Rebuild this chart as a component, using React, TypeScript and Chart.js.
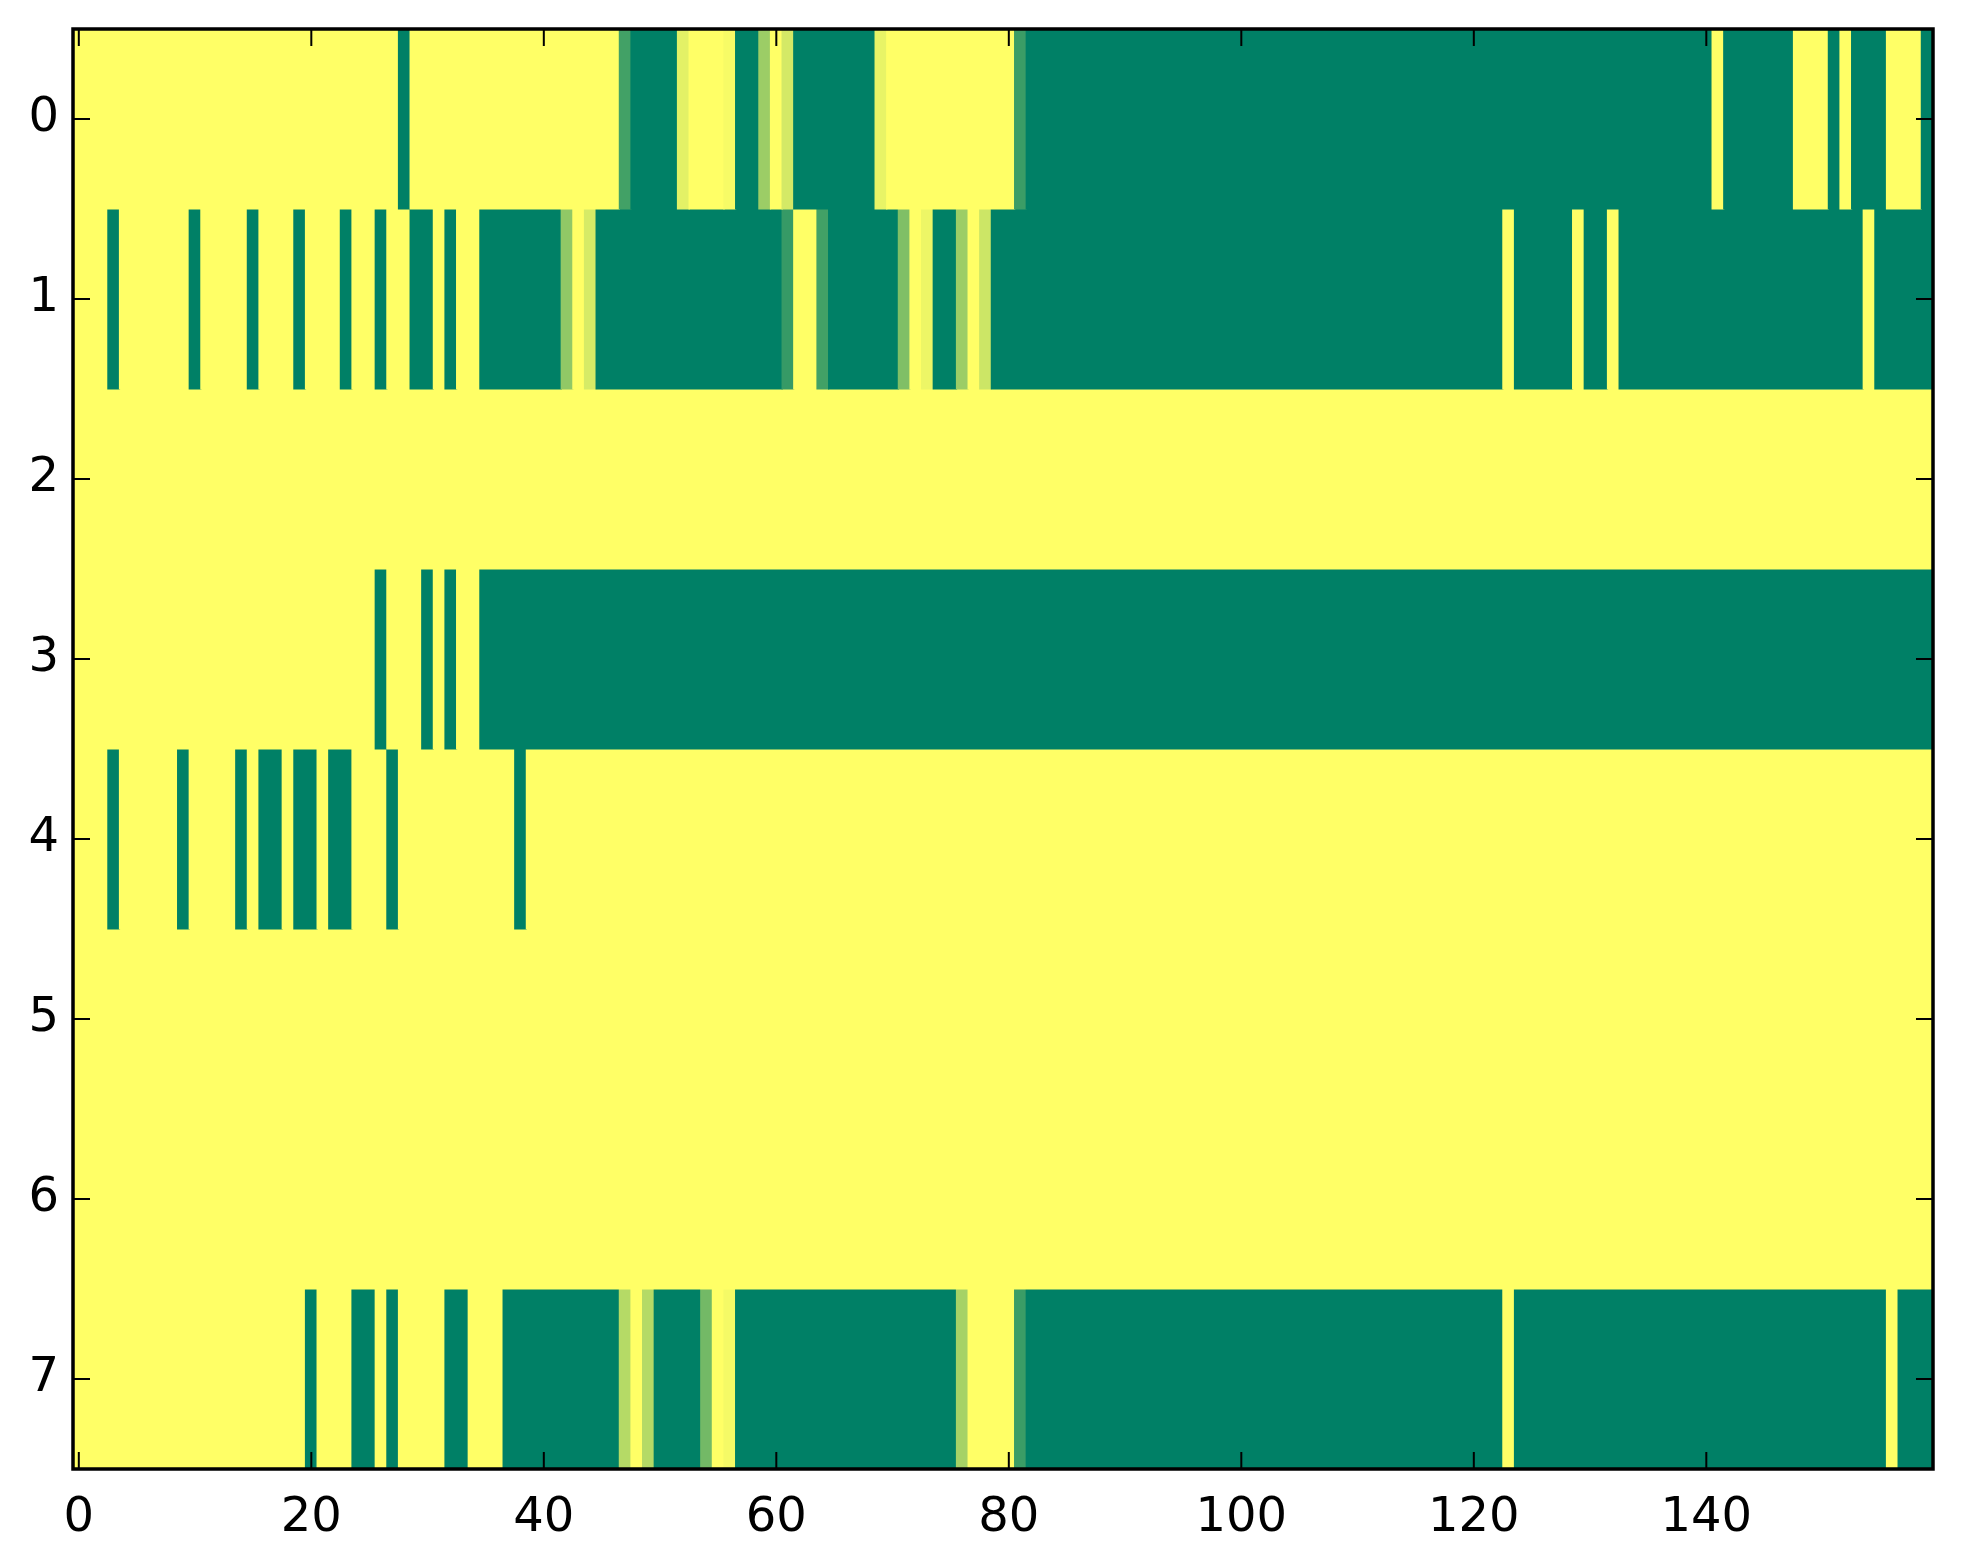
import React, { useEffect, useRef } from "react";
import { Chart, registerables } from "chart.js";

Chart.register(...registerables);

// Tick values / labels
const xTickValues = [0, 20, 40, 60, 80, 100, 120, 140];
const yTickValues = [0, 1, 2, 3, 4, 5, 6, 7];
const nCols = 160;

// Cell values per row (0 = green, 1 = yellow), columns 0..159
const row0 = [
  1, 1, 1, 1, 1, 1, 1, 1, 1, 1, 1, 1, 1, 1, 1, 1, 1, 1, 1, 1,
  1, 1, 1, 1, 1, 1, 1, 1, 0, 1, 1, 1, 1, 1, 1, 1, 1, 1, 1, 1,
  1, 1, 1, 1, 1, 1, 1, 0.26, 0, 0, 0, 0, 0.89, 1, 1, 1, 0.97, 0, 0, 0.61,
  1, 0.83, 0, 0, 0, 0, 0, 0, 0, 0.91, 1, 1, 1, 1, 1, 1, 1, 1, 1, 1,
  1, 0.23, 0, 0, 0, 0, 0, 0, 0, 0, 0, 0, 0, 0, 0, 0, 0, 0, 0, 0,
  0, 0, 0, 0, 0, 0, 0, 0, 0, 0, 0, 0, 0, 0, 0, 0, 0, 0, 0, 0,
  0, 0, 0, 0, 0, 0, 0, 0, 0, 0, 0, 0, 0, 0, 0, 0, 0, 0, 0, 0,
  0, 1, 0, 0, 0, 0, 0, 0, 1, 1, 1, 0, 1, 0, 0, 0, 1, 1, 1, 0,
];

const row1 = [
  1, 1, 1, 0, 1, 1, 1, 1, 1, 1, 0, 1, 1, 1, 1, 0, 1, 1, 1, 0,
  1, 1, 1, 0, 1, 1, 0, 1, 1, 0, 0, 1, 0, 1, 1, 0, 0, 0, 0, 0,
  0, 0, 0.57, 1, 0.84, 0, 0, 0, 0, 0, 0, 0, 0, 0, 0, 0, 0, 0, 0, 0,
  0, 0.21, 1, 1, 0.26, 0, 0, 0, 0, 0, 0, 0.5, 1, 0.93, 0, 0, 0.61, 1, 0.8, 0,
  0, 0, 0, 0, 0, 0, 0, 0, 0, 0, 0, 0, 0, 0, 0, 0, 0, 0, 0, 0,
  0, 0, 0, 0, 0, 0, 0, 0, 0, 0, 0, 0, 0, 0, 0, 0, 0, 0, 0, 0,
  0, 0, 0, 1, 0, 0, 0, 0, 0, 1, 0, 0, 1, 0, 0, 0, 0, 0, 0, 0,
  0, 0, 0, 0, 0, 0, 0, 0, 0, 0, 0, 0, 0, 0, 1, 0, 0, 0, 0, 0,
];

const row2 = [
  1, 1, 1, 1, 1, 1, 1, 1, 1, 1, 1, 1, 1, 1, 1, 1, 1, 1, 1, 1,
  1, 1, 1, 1, 1, 1, 1, 1, 1, 1, 1, 1, 1, 1, 1, 1, 1, 1, 1, 1,
  1, 1, 1, 1, 1, 1, 1, 1, 1, 1, 1, 1, 1, 1, 1, 1, 1, 1, 1, 1,
  1, 1, 1, 1, 1, 1, 1, 1, 1, 1, 1, 1, 1, 1, 1, 1, 1, 1, 1, 1,
  1, 1, 1, 1, 1, 1, 1, 1, 1, 1, 1, 1, 1, 1, 1, 1, 1, 1, 1, 1,
  1, 1, 1, 1, 1, 1, 1, 1, 1, 1, 1, 1, 1, 1, 1, 1, 1, 1, 1, 1,
  1, 1, 1, 1, 1, 1, 1, 1, 1, 1, 1, 1, 1, 1, 1, 1, 1, 1, 1, 1,
  1, 1, 1, 1, 1, 1, 1, 1, 1, 1, 1, 1, 1, 1, 1, 1, 1, 1, 1, 1,
];

const row3 = [
  1, 1, 1, 1, 1, 1, 1, 1, 1, 1, 1, 1, 1, 1, 1, 1, 1, 1, 1, 1,
  1, 1, 1, 1, 1, 1, 0, 1, 1, 1, 0, 1, 0, 1, 1, 0, 0, 0, 0, 0,
  0, 0, 0, 0, 0, 0, 0, 0, 0, 0, 0, 0, 0, 0, 0, 0, 0, 0, 0, 0,
  0, 0, 0, 0, 0, 0, 0, 0, 0, 0, 0, 0, 0, 0, 0, 0, 0, 0, 0, 0,
  0, 0, 0, 0, 0, 0, 0, 0, 0, 0, 0, 0, 0, 0, 0, 0, 0, 0, 0, 0,
  0, 0, 0, 0, 0, 0, 0, 0, 0, 0, 0, 0, 0, 0, 0, 0, 0, 0, 0, 0,
  0, 0, 0, 0, 0, 0, 0, 0, 0, 0, 0, 0, 0, 0, 0, 0, 0, 0, 0, 0,
  0, 0, 0, 0, 0, 0, 0, 0, 0, 0, 0, 0, 0, 0, 0, 0, 0, 0, 0, 0,
];

const row4 = [
  1, 1, 1, 0, 1, 1, 1, 1, 1, 0, 1, 1, 1, 1, 0, 1, 0, 0, 1, 0,
  0, 1, 0, 0, 1, 1, 1, 0, 1, 1, 1, 1, 1, 1, 1, 1, 1, 1, 0, 1,
  1, 1, 1, 1, 1, 1, 1, 1, 1, 1, 1, 1, 1, 1, 1, 1, 1, 1, 1, 1,
  1, 1, 1, 1, 1, 1, 1, 1, 1, 1, 1, 1, 1, 1, 1, 1, 1, 1, 1, 1,
  1, 1, 1, 1, 1, 1, 1, 1, 1, 1, 1, 1, 1, 1, 1, 1, 1, 1, 1, 1,
  1, 1, 1, 1, 1, 1, 1, 1, 1, 1, 1, 1, 1, 1, 1, 1, 1, 1, 1, 1,
  1, 1, 1, 1, 1, 1, 1, 1, 1, 1, 1, 1, 1, 1, 1, 1, 1, 1, 1, 1,
  1, 1, 1, 1, 1, 1, 1, 1, 1, 1, 1, 1, 1, 1, 1, 1, 1, 1, 1, 1,
];

const row5 = [
  1, 1, 1, 1, 1, 1, 1, 1, 1, 1, 1, 1, 1, 1, 1, 1, 1, 1, 1, 1,
  1, 1, 1, 1, 1, 1, 1, 1, 1, 1, 1, 1, 1, 1, 1, 1, 1, 1, 1, 1,
  1, 1, 1, 1, 1, 1, 1, 1, 1, 1, 1, 1, 1, 1, 1, 1, 1, 1, 1, 1,
  1, 1, 1, 1, 1, 1, 1, 1, 1, 1, 1, 1, 1, 1, 1, 1, 1, 1, 1, 1,
  1, 1, 1, 1, 1, 1, 1, 1, 1, 1, 1, 1, 1, 1, 1, 1, 1, 1, 1, 1,
  1, 1, 1, 1, 1, 1, 1, 1, 1, 1, 1, 1, 1, 1, 1, 1, 1, 1, 1, 1,
  1, 1, 1, 1, 1, 1, 1, 1, 1, 1, 1, 1, 1, 1, 1, 1, 1, 1, 1, 1,
  1, 1, 1, 1, 1, 1, 1, 1, 1, 1, 1, 1, 1, 1, 1, 1, 1, 1, 1, 1,
];

const row6 = [
  1, 1, 1, 1, 1, 1, 1, 1, 1, 1, 1, 1, 1, 1, 1, 1, 1, 1, 1, 1,
  1, 1, 1, 1, 1, 1, 1, 1, 1, 1, 1, 1, 1, 1, 1, 1, 1, 1, 1, 1,
  1, 1, 1, 1, 1, 1, 1, 1, 1, 1, 1, 1, 1, 1, 1, 1, 1, 1, 1, 1,
  1, 1, 1, 1, 1, 1, 1, 1, 1, 1, 1, 1, 1, 1, 1, 1, 1, 1, 1, 1,
  1, 1, 1, 1, 1, 1, 1, 1, 1, 1, 1, 1, 1, 1, 1, 1, 1, 1, 1, 1,
  1, 1, 1, 1, 1, 1, 1, 1, 1, 1, 1, 1, 1, 1, 1, 1, 1, 1, 1, 1,
  1, 1, 1, 1, 1, 1, 1, 1, 1, 1, 1, 1, 1, 1, 1, 1, 1, 1, 1, 1,
  1, 1, 1, 1, 1, 1, 1, 1, 1, 1, 1, 1, 1, 1, 1, 1, 1, 1, 1, 1,
];

const row7 = [
  1, 1, 1, 1, 1, 1, 1, 1, 1, 1, 1, 1, 1, 1, 1, 1, 1, 1, 1, 1,
  0, 1, 1, 1, 0, 0, 1, 0, 1, 1, 1, 1, 0, 0, 1, 1, 1, 0, 0, 0,
  0, 0, 0, 0, 0, 0, 0, 0.71, 1, 0.71, 0, 0, 0, 0, 0.45, 1, 0.96, 0, 0, 0,
  0, 0, 0, 0, 0, 0, 0, 0, 0, 0, 0, 0, 0, 0, 0, 0, 0.65, 1, 1, 1,
  1, 0.23, 0, 0, 0, 0, 0, 0, 0, 0, 0, 0, 0, 0, 0, 0, 0, 0, 0, 0,
  0, 0, 0, 0, 0, 0, 0, 0, 0, 0, 0, 0, 0, 0, 0, 0, 0, 0, 0, 0,
  0, 0, 0, 1, 0, 0, 0, 0, 0, 0, 0, 0, 0, 0, 0, 0, 0, 0, 0, 0,
  0, 0, 0, 0, 0, 0, 0, 0, 0, 0, 0, 0, 0, 0, 0, 0, 1, 0, 0, 0,
];

const rows = [row0, row1, row2, row3, row4, row5, row6, row7];

// matplotlib "summer" colormap
function summer(v: number): string {
  const r = Math.round(255 * v);
  const g = Math.round(255 * (0.5 + 0.5 * v));
  return `rgb(${r},${g},102)`;
}

// merge equal neighbouring cells into one floating bar (avoids seams)
function buildRuns(row: number[], r: number) {
  const out: { x: [number, number]; y: number; v: number }[] = [];
  let start = 0;
  for (let i = 1; i <= row.length; i++) {
    if (i === row.length || row[i] !== row[start]) {
      out.push({ x: [start - 0.5, i - 0.5], y: r, v: row[start] });
      start = i;
    }
  }
  return out;
}

const FONT = { family: "'DejaVu Sans', 'Bitstream Vera Sans', sans-serif", size: 48 };

const framePlugin = {
  id: "mplFrame",
  afterDraw(chart: any) {
    const { ctx, chartArea: a, scales } = chart;
    const tl = 17;
    ctx.save();
    ctx.strokeStyle = "#000";
    ctx.lineWidth = 2;
    ctx.beginPath();
    scales.x.ticks.forEach((t: any) => {
      const px = scales.x.getPixelForValue(t.value);
      ctx.moveTo(px, a.bottom);
      ctx.lineTo(px, a.bottom - tl);
      ctx.moveTo(px, a.top);
      ctx.lineTo(px, a.top + tl);
    });
    scales.y.ticks.forEach((t: any) => {
      const py = scales.y.getPixelForValue(t.value);
      ctx.moveTo(a.left, py);
      ctx.lineTo(a.left + tl, py);
      ctx.moveTo(a.right, py);
      ctx.lineTo(a.right - tl, py);
    });
    ctx.stroke();
    ctx.lineWidth = 3.5;
    ctx.strokeRect(a.left, a.top, a.right - a.left, a.bottom - a.top);
    ctx.restore();
  },
};

export default function App() {
  const canvasRef = useRef<HTMLCanvasElement | null>(null);

  useEffect(() => {
    if (!canvasRef.current) return;
    const datasets = rows.map((row, r) => {
      const runs = buildRuns(row, r);
      return {
        label: `row ${r}`,
        data: runs,
        backgroundColor: runs.map((d) => summer(d.v)),
        borderWidth: 0,
        barPercentage: 1,
        categoryPercentage: 1,
        grouped: false,
        inflateAmount: 0.6,
      };
    });

    const chart = new Chart(canvasRef.current, {
      type: "bar",
      data: { datasets: datasets as any },
      plugins: [framePlugin],
      options: {
        indexAxis: "y",
        animation: false,
        responsive: false,
        devicePixelRatio: 1,
        layout: { padding: { left: 0, top: 29, right: 30, bottom: 0 } },
        plugins: { legend: { display: false }, tooltip: { enabled: false } },
        scales: {
          x: {
            type: "linear",
            position: "bottom",
            min: -0.5,
            max: nCols - 0.5,
            offset: false,
            grid: { display: false, drawTicks: false },
            border: { display: false },
            afterBuildTicks: (s: any) => {
              s.ticks = xTickValues.map((v) => ({ value: v }));
            },
            afterFit: (s: any) => {
              s.height = 95;
              s.paddingLeft = 0;
              s.paddingRight = 0;
            },
            ticks: {
              autoSkip: false,
              maxRotation: 0,
              color: "#000",
              font: FONT,
              padding: 21,
              callback: (v: any) => String(v),
            },
          },
          y: {
            type: "linear",
            min: -0.5,
            max: rows.length - 0.5,
            reverse: true,
            offset: false,
            grid: { display: false, drawTicks: false, offset: false },
            border: { display: false },
            afterBuildTicks: (s: any) => {
              s.ticks = yTickValues.map((v) => ({ value: v }));
            },
            afterFit: (s: any) => {
              s.width = 73;
              s.paddingTop = 0;
              s.paddingBottom = 0;
            },
            ticks: {
              autoSkip: false,
              color: "#000",
              font: FONT,
              padding: 14,
              callback: (v: any) => String(v),
            },
          },
        },
      } as any,
    });
    return () => chart.destroy();
  }, []);

  return (
    <div
      style={{
        position: "absolute",
        left: 0,
        top: 0,
        width: 1963,
        height: 1564,
        background: "#fff",
      }}
    >
      <canvas
        ref={canvasRef}
        width={1963}
        height={1564}
        style={{ width: 1963, height: 1564, display: "block" }}
      />
    </div>
  );
}
